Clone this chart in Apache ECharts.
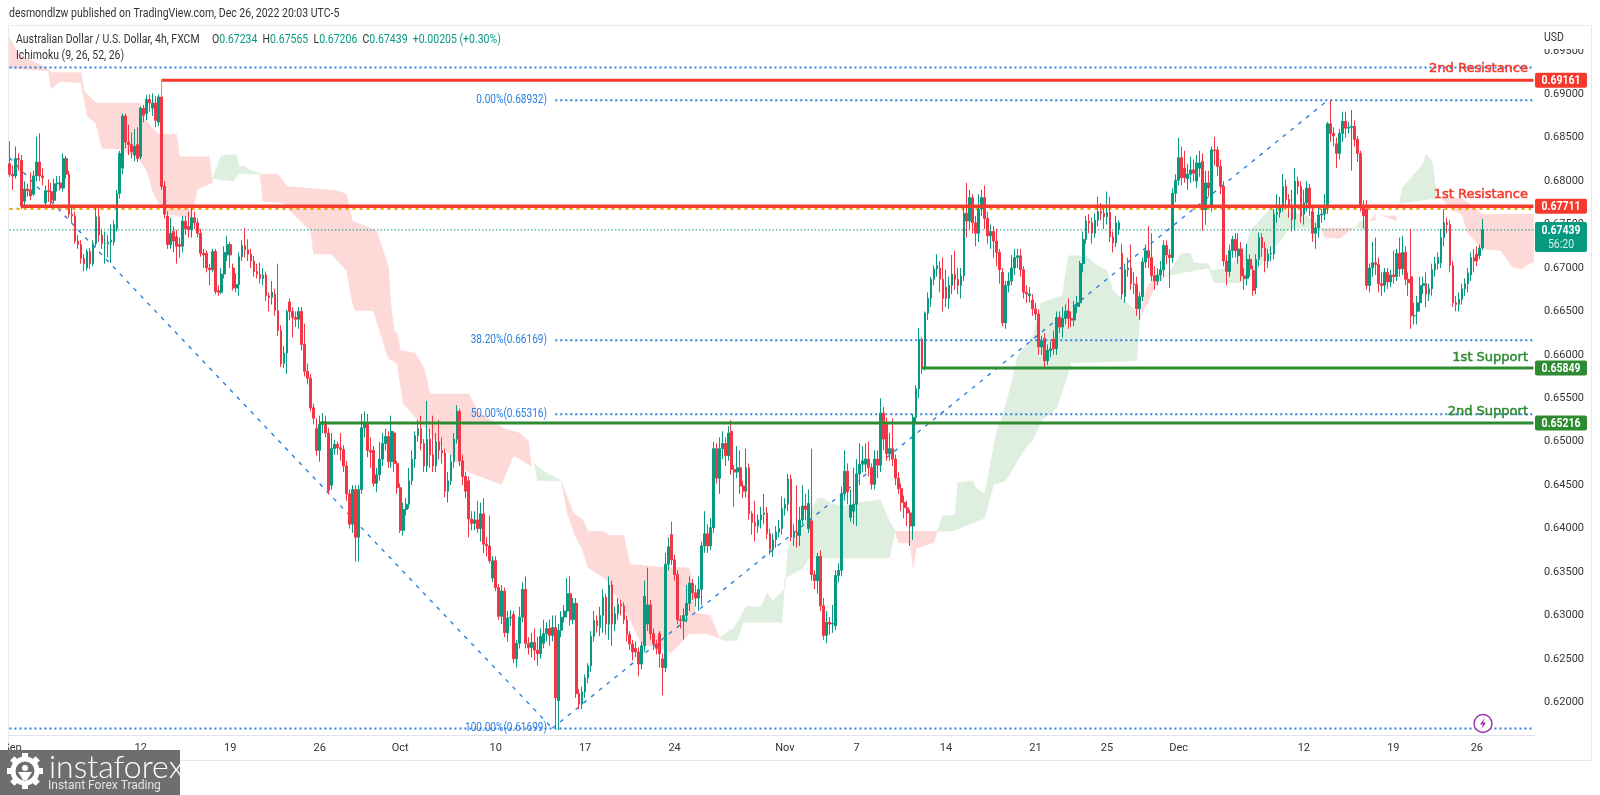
<!DOCTYPE html>
<html><head><meta charset="utf-8"><title>AUD/USD</title>
<style>html,body{margin:0;padding:0;background:#fff}#c{width:1600px;height:795px}</style>
<script src="https://cdn.jsdelivr.net/npm/echarts@6/dist/echarts.min.js"></script></head>
<body><div id="c"></div><script>
// prices in pips (6743 = 0.6743); every candle is [open, close, low, high]
const candlesSep=[[6820,6808,6805,6846],[6808,6806,6790,6818],[6806,6826,6803,6840],[6826,6825,6812,6832],[6824,6771,6768,6830],[6777,6791,6770,6800],[6791,6789,6782,6797],[6790,6783,6778,6810],[6785,6806,6783,6812],[6806,6822,6800,6851],[6822,6806,6800,6855],[6806,6804,6795,6815],[6775,6789,6772,6795],[6789,6788,6776,6802],[6788,6778,6772,6798],[6778,6797,6775,6803],[6797,6798,6788,6806],[6798,6792,6789,6806],[6792,6826,6788,6832],[6826,6808,6803,6829],[6808,6762,6758,6812],[6762,6760,6752,6770],[6760,6731,6728,6765],[6731,6727,6722,6738],[6727,6711,6705,6732],[6711,6705,6696,6716],[6700,6719,6697,6722],[6719,6705,6699,6723],[6705,6728,6702,6732],[6728,6759,6724,6770],[6759,6738,6730,6773],[6738,6728,6722,6745],[6728,6728,6705,6742],[6728,6730,6712,6738],[6730,6732,6706,6750],[6730,6750,6726,6755],[6745,6786,6742,6790],[6786,6832,6780,6835],[6815,6875,6808,6878],[6875,6845,6838,6878],[6845,6842,6830,6865],[6842,6834,6826,6856],[6830,6840,6823,6860],[6842,6826,6822,6862],[6828,6884,6825,6886],[6884,6876,6868,6888],[6878,6894,6870,6899],[6894,6890,6880,6900],[6884,6890,6875,6901],[6890,6870,6862,6898],[6868,6897,6863,6900],[6897,6794,6790,6900],[6794,6762,6757,6800],[6760,6727,6722,6765],[6727,6740,6722,6758],[6742,6731,6718,6748],[6736,6725,6705,6744],[6727,6725,6712,6735],[6725,6754,6718,6760],[6754,6745,6738,6760],[6748,6744,6735,6765],[6744,6758,6735,6772],[6758,6752,6745,6765],[6752,6740,6735,6757],[6740,6717,6713,6745],[6717,6715,6700,6722],[6717,6700,6695,6720],[6700,6698,6680,6705],[6698,6719,6695,6722],[6719,6673,6670,6722],[6674,6672,6668,6680],[6672,6693,6670,6700],[6693,6718,6688,6725],[6715,6727,6708,6737],[6727,6715,6700,6730],[6700,6677,6674,6705],[6677,6681,6672,6694],[6681,6713,6668,6718],[6713,6726,6708,6732],[6726,6721,6712,6746],[6721,6716,6708,6733],[6716,6708,6700,6722],[6708,6696,6690,6714],[6696,6693,6688,6705],[6693,6688,6682,6706],[6688,6692,6680,6700],[6692,6668,6662,6696],[6668,6666,6650,6672],[6666,6672,6658,6685],[6670,6651,6645,6676],[6651,6628,6622,6705],[6628,6590,6586,6634],[6590,6602,6585,6610],[6602,6650,6578,6652],[6661,6650,6640,6665],[6650,6643,6620,6655],[6643,6641,6632,6650],[6641,6650,6630,6655],[6650,6612,6605,6655],[6612,6581,6575,6636],[6581,6573,6566,6590],[6573,6539,6535,6578],[6539,6527,6520,6544],[6515,6490,6484,6527],[6490,6520,6477,6530],[6520,6523,6510,6533],[6523,6510,6505,6530],[6510,6444,6440,6516],[6450,6492,6445,6510],[6492,6497,6485,6502],[6497,6493,6485,6500],[6493,6491,6478,6510],[6491,6472,6465,6496],[6472,6440,6432,6478],[6440,6405,6400,6445],[6405,6445,6395,6450],[6445,6390,6362,6450],[6390,6445,6362,6450],[6445,6516,6440,6532],[6516,6520,6505,6535],[6520,6490,6482,6532],[6490,6488,6470,6505],[6490,6452,6448,6495],[6452,6462,6442,6470],[6462,6480,6455,6500],[6480,6498,6472,6510],[6498,6506,6490,6515],[6506,6477,6470,6512],[6477,6512,6470,6530],[6510,6475,6465,6512],[6475,6447,6440,6478],[6447,6398,6395,6452]];
const candlesOct=[[6398,6422,6392,6430],[6422,6428,6415,6435],[6428,6455,6423,6470],[6455,6480,6450,6490],[6480,6507,6470,6512],[6507,6515,6500,6525],[6515,6498,6490,6530],[6498,6472,6465,6503],[6472,6503,6465,6547],[6503,6485,6470,6515],[6485,6472,6465,6530],[6472,6500,6465,6510],[6500,6490,6480,6525],[6490,6487,6475,6505],[6487,6443,6436,6492],[6443,6455,6430,6465],[6455,6477,6450,6485],[6477,6503,6470,6510],[6503,6535,6498,6542],[6535,6478,6472,6538],[6478,6460,6450,6485],[6460,6443,6435,6465],[6455,6411,6390,6460],[6411,6406,6398,6420],[6406,6410,6398,6420],[6410,6400,6395,6432],[6400,6417,6385,6430],[6417,6382,6372,6435],[6382,6380,6368,6390],[6380,6363,6360,6415],[6343,6363,6338,6368],[6363,6332,6328,6368],[6332,6299,6295,6336],[6299,6328,6290,6335],[6328,6280,6275,6332],[6280,6297,6270,6305],[6297,6298,6288,6306],[6301,6250,6245,6305],[6250,6268,6240,6272],[6268,6298,6262,6310],[6298,6330,6292,6338],[6330,6268,6262,6345],[6268,6263,6255,6275],[6263,6269,6252,6280],[6269,6260,6248,6285],[6260,6256,6242,6275],[6256,6276,6250,6285],[6268,6279,6262,6295],[6279,6285,6270,6292],[6285,6277,6265,6295],[6277,6286,6270,6300],[6286,6205,6170,6300],[6202,6283,6168,6290],[6283,6298,6275,6305],[6298,6305,6292,6312],[6305,6325,6298,6343],[6325,6295,6288,6345],[6295,6314,6290,6320],[6314,6210,6205,6320],[6210,6198,6192,6215],[6198,6212,6192,6218],[6212,6228,6205,6232],[6228,6242,6222,6245],[6242,6276,6235,6282],[6276,6294,6270,6305],[6294,6288,6280,6300],[6286,6300,6276,6310],[6300,6321,6280,6330],[6321,6290,6278,6325],[6290,6335,6272,6345],[6335,6290,6265,6340],[6290,6302,6282,6310],[6302,6313,6295,6320],[6313,6311,6300,6318],[6311,6295,6290,6315],[6295,6278,6270,6300],[6278,6267,6260,6282],[6267,6258,6248,6272],[6262,6258,6252,6270],[6258,6244,6230,6263],[6244,6265,6238,6270],[6265,6322,6258,6340],[6290,6312,6282,6355],[6312,6279,6272,6318],[6279,6267,6260,6285],[6267,6262,6255,6272],[6279,6256,6240,6282],[6250,6240,6208,6256],[6240,6359,6235,6372],[6359,6379,6352,6390],[6393,6364,6358,6408],[6364,6347,6340,6370],[6347,6295,6290,6352],[6295,6294,6285,6300],[6294,6300,6272,6308],[6300,6314,6292,6335],[6314,6337,6305,6345],[6337,6326,6318,6342],[6326,6320,6310,6335],[6320,6330,6305,6345],[6330,6380,6312,6385],[6380,6394,6372,6420],[6394,6380,6372,6405],[6380,6401,6375,6412],[6401,6492,6395,6500],[6492,6458,6452,6498],[6458,6492,6440,6505],[6492,6498,6480,6512],[6498,6484,6472,6505],[6484,6510,6478,6518],[6512,6468,6462,6525],[6468,6465,6425,6473],[6465,6470,6458,6495],[6470,6449,6440,6490],[6449,6443,6435,6455],[6443,6470,6436,6492],[6470,6417,6410,6475],[6417,6407,6393,6420],[6407,6403,6385,6432],[6403,6410,6395,6416],[6410,6416,6400,6425],[6416,6418,6405,6440],[6418,6394,6388,6425],[6394,6376,6370,6400],[6376,6387,6367,6394],[6387,6396,6378,6403],[6396,6400,6390,6410],[6400,6423,6393,6437],[6423,6428,6415,6435],[6428,6457,6420,6463]];
const candlesNov=[[6457,6390,6385,6462],[6390,6396,6380,6405],[6396,6392,6378,6450],[6392,6410,6380,6425],[6410,6426,6405,6450],[6426,6422,6410,6440],[6400,6429,6395,6445],[6409,6347,6340,6492],[6347,6340,6330,6352],[6340,6368,6325,6372],[6368,6311,6305,6375],[6311,6277,6272,6320],[6277,6292,6268,6305],[6292,6290,6278,6298],[6290,6291,6280,6312],[6288,6346,6283,6352],[6346,6352,6338,6360],[6352,6440,6345,6448],[6440,6466,6432,6490],[6466,6442,6428,6475],[6413,6427,6408,6445],[6420,6428,6405,6470],[6428,6463,6403,6480],[6463,6474,6450,6498],[6474,6478,6465,6495],[6474,6480,6465,6498],[6480,6470,6460,6500],[6470,6451,6445,6475],[6451,6480,6445,6490],[6480,6473,6458,6490],[6473,6533,6465,6550],[6533,6503,6490,6540],[6520,6486,6478,6528],[6486,6492,6478,6510],[6492,6480,6472,6527],[6480,6458,6450,6485],[6458,6446,6440,6465],[6446,6430,6420,6452],[6430,6424,6412,6438],[6424,6418,6403,6432],[6418,6403,6380,6422],[6403,6528,6387,6532],[6528,6561,6520,6565],[6561,6618,6550,6631],[6618,6584,6578,6620],[6584,6648,6582,6650],[6648,6665,6640,6672],[6665,6687,6655,6690],[6687,6699,6680,6703],[6699,6703,6690,6716],[6700,6687,6672,6708],[6687,6665,6650,6712],[6678,6665,6655,6698],[6665,6680,6653,6690],[6680,6693,6670,6715],[6693,6687,6675,6720],[6687,6680,6670,6700],[6680,6691,6665,6700],[6691,6763,6685,6770],[6763,6754,6735,6798],[6754,6781,6745,6790],[6781,6752,6740,6785],[6752,6740,6725,6760],[6740,6768,6730,6785],[6768,6781,6760,6790],[6781,6757,6745,6795],[6757,6737,6728,6765],[6737,6742,6722,6750],[6742,6731,6712,6748],[6731,6718,6702,6745],[6718,6698,6682,6722],[6695,6637,6633,6700],[6637,6680,6630,6685],[6680,6685,6672,6695],[6685,6700,6680,6715],[6700,6712,6692,6722],[6712,6714,6700,6722],[6714,6698,6690,6722],[6698,6672,6665,6702],[6672,6670,6660,6680],[6668,6670,6660,6678],[6663,6653,6645,6670],[6653,6647,6640,6660],[6647,6609,6600,6652],[6609,6616,6600,6622],[6619,6593,6585,6625],[6593,6605,6588,6612],[6605,6607,6597,6615],[6618,6607,6600,6628],[6607,6643,6600,6650],[6643,6632,6625,6650],[6632,6642,6620,6655],[6642,6650,6635,6658],[6650,6642,6630,6665],[6642,6640,6632,6650],[6640,6656,6633,6662],[6656,6660,6648,6668],[6660,6705,6655,6708],[6705,6733,6695,6742],[6733,6754,6728,6760],[6754,6752,6740,6762],[6752,6740,6728,6758],[6740,6755,6735,6763],[6755,6765,6748,6782],[6765,6763,6755,6775],[6763,6759,6745,6772],[6759,6764,6750,6788],[6764,6736,6730,6782],[6736,6729,6718,6742],[6729,6752,6724,6760],[6745,6752,6738,6755],[6717,6670,6664,6728],[6667,6698,6660,6705],[6698,6700,6690,6712],[6700,6682,6675,6727],[6682,6681,6670,6695],[6681,6653,6645,6690],[6653,6667,6640,6672],[6667,6707,6662,6712],[6707,6720,6700,6727],[6720,6712,6700,6748],[6712,6691,6685,6740],[6691,6685,6675,6702],[6685,6692,6680,6700],[6692,6698,6685,6708],[6698,6726,6690,6732],[6726,6715,6705,6732],[6715,6712,6677,6722],[6712,6786,6706,6792],[6786,6801,6776,6808],[6801,6827,6795,6850]];
const candlesDec=[[6827,6804,6795,6840],[6815,6804,6798,6835],[6803,6808,6790,6820],[6808,6813,6798,6828],[6813,6809,6800,6825],[6800,6821,6792,6830],[6815,6821,6805,6835],[6823,6767,6743,6832],[6767,6798,6750,6812],[6798,6792,6782,6812],[6771,6836,6765,6840],[6836,6835,6818,6851],[6836,6817,6806,6840],[6817,6794,6785,6825],[6794,6708,6702,6800],[6708,6696,6680,6715],[6696,6720,6690,6727],[6720,6733,6712,6737],[6733,6720,6712,6740],[6714,6722,6705,6740],[6722,6691,6685,6730],[6691,6688,6675,6700],[6688,6710,6680,6728],[6710,6699,6690,6716],[6697,6674,6668,6703],[6677,6710,6670,6716],[6710,6735,6702,6741],[6735,6723,6713,6740],[6723,6708,6695,6730],[6708,6716,6700,6722],[6716,6717,6708,6725],[6716,6762,6710,6768],[6762,6764,6752,6785],[6764,6770,6758,6782],[6770,6794,6765,6808],[6794,6779,6770,6802],[6779,6770,6758,6785],[6770,6756,6742,6790],[6756,6800,6743,6815],[6800,6794,6785,6805],[6794,6760,6752,6800],[6762,6775,6750,6790],[6775,6792,6765,6800],[6792,6769,6760,6797],[6765,6740,6730,6770],[6740,6746,6722,6752],[6746,6761,6735,6770],[6761,6762,6752,6768],[6762,6772,6755,6785],[6769,6866,6762,6868],[6866,6855,6845,6893],[6855,6852,6840,6862],[6843,6832,6815,6850],[6832,6855,6825,6860],[6855,6869,6845,6880],[6869,6861,6850,6880],[6861,6862,6855,6868],[6862,6863,6812,6882],[6863,6848,6840,6870],[6848,6832,6822,6852],[6832,6771,6765,6835],[6771,6760,6745,6778],[6768,6680,6675,6778],[6680,6700,6672,6705],[6700,6706,6690,6730],[6706,6704,6692,6735],[6704,6682,6672,6712],[6682,6680,6668,6695],[6680,6695,6672,6700],[6695,6684,6676,6700],[6684,6692,6678,6698],[6692,6690,6682,6720],[6690,6717,6685,6722],[6717,6699,6690,6735],[6699,6718,6692,6737],[6718,6687,6680,6725],[6687,6683,6668,6695],[6690,6645,6630,6745],[6645,6645,6635,6660],[6650,6660,6635,6668],[6660,6680,6650,6690],[6680,6682,6670,6690],[6682,6670,6655,6695],[6670,6676,6662,6682],[6676,6698,6668,6705],[6698,6705,6690,6713],[6705,6712,6698,6718],[6706,6735,6700,6745],[6735,6752,6725,6768],[6752,6750,6740,6758],[6750,6703,6695,6755],[6703,6660,6655,6708],[6660,6658,6650,6668],[6658,6664,6650,6672],[6664,6676,6658,6682],[6676,6682,6668,6688],[6682,6694,6672,6700],[6692,6712,6685,6718],[6712,6708,6695,6722],[6716,6708,6702,6725],[6714,6723,6710,6727],[6723.4,6743.9,6720.6,6756.5]];

// Ichimoku cloud outlines: [bar index, price]
const redTop1=[[0,6965],[3,6946],[13,6929],[14,6925],[24,6925],[25,6904],[29,6890],[44,6890],[45,6872],[50,6854],[56,6854],[57,6828],[67,6828],[68,6800]];
const redBot1=[[0,6930],[13,6927],[14,6906],[17,6915],[24,6913],[26,6875],[29,6866],[31,6838],[37,6837],[43,6827],[46,6812],[48,6789],[51,6768],[53,6762],[61,6758],[63,6791],[68,6798]];
const greenTop1=[[68,6803],[71,6829],[76,6831],[77,6817],[79,6817],[81,6812],[84,6809]];
const greenBot1=[[68,6803],[75,6800],[77,6809],[84,6808]];
const redTop2=[[84,6808],[90,6808],[93,6794],[110,6789],[113,6785],[115,6754],[123,6743],[127,6702],[128,6654],[129,6628],[130,6625],[131,6605],[136,6602],[139,6585],[141,6555],[154,6555],[157,6535],[166,6515],[171,6510],[174,6501],[175,6472]];
const redBot2=[[84,6808],[85,6777],[92,6775],[94,6766],[100,6746],[101,6743],[102,6716],[108,6716],[113,6697],[115,6660],[116,6651],[122,6651],[127,6596],[130,6590],[132,6544],[137,6524],[153,6466],[165,6451],[169,6484],[175,6472]];
const greenTop2=[[176,6475],[179,6466],[184,6457],[185,6455]];
const greenBot2=[[176,6475],[177,6455],[185,6455]];
const redTop3=[[185,6455],[189,6418],[192,6411],[194,6397],[199,6397],[201,6392],[206,6392],[208,6359],[217,6356],[228,6355],[229,6334],[230,6303],[235,6300],[238,6274]];
const redBot3=[[185,6455],[187,6418],[190,6389],[192,6377],[194,6355],[200,6342],[207,6302],[212,6267],[217,6263],[222,6257],[228,6279],[234,6279],[238,6274]];
const greenTop3=[[238,6274],[243,6286],[247,6310],[252,6310],[254,6326],[256,6317],[260,6331],[261,6377],[271,6435],[273,6435],[276,6428],[280,6426],[285,6430],[292,6433],[295,6409],[297,6397]];
const greenBot3=[[238,6274],[240,6271],[244,6271],[246,6292],[259,6292],[260,6343],[266,6354],[268,6366],[295,6366],[297,6397]];
const redTop4=[[297,6397],[311,6397]];
const redBot4=[[297,6397],[298,6384],[302,6383],[303,6355],[304,6377],[310,6384],[311,6397]];
const greenTop4=[[311,6397],[313,6415],[317,6415],[318,6453],[323,6455],[324,6447],[327,6440],[331,6512],[333,6530],[336,6567],[338,6599],[343,6620],[346,6660],[353,6668],[355,6714],[361,6714],[365,6702],[368,6697],[370,6674],[377,6653],[379,6643]];
const greenBot4=[[311,6397],[316,6397],[327,6412],[330,6451],[334,6455],[341,6495],[343,6501],[346,6524],[351,6538],[355,6578],[356,6591],[378,6593],[379,6643]];
const redTop5=[[379,6643],[381,6674],[384,6691],[388,6691]];
const redBot5=[[379,6643],[382,6662],[384,6679],[388,6691]];
const greenTop5=[[388,6691],[393,6717],[396,6717],[397,6706],[402,6705],[403,6697],[407,6699],[414,6716],[416,6743],[423,6769],[435,6760],[440,6746]];
const greenBot5=[[388,6691],[402,6700],[404,6683],[413,6683],[417,6693],[422,6714],[427,6735],[429,6746],[440,6746]];
const redTop6=[[440,6746],[451,6746]];
const redBot6=[[440,6746],[441,6735],[446,6734],[450,6745],[451,6746]];
const greenTop6=[[451,6746],[453,6754],[455,6755]];
const greenBot6=[[451,6746],[455,6746]];
const redTop7=[[456,6754],[458,6762]];
const redBot7=[[456,6754],[458,6755]];
const redTop8=[[460,6760],[465,6760]];
const redBot8=[[461,6760],[465,6754]];
const greenTop7=[[466,6774],[467,6792],[472,6812],[474,6820],[475,6831],[477,6823],[478,6797],[479,6781]];
const greenBot7=[[466,6774],[479,6781]];
const redTop9=[[480,6781],[487,6780],[494,6762],[511,6762]];
const redBot9=[[480,6781],[484,6766],[487,6762],[489,6740],[494,6722],[500,6720],[504,6701],[507,6699],[510,6706],[511,6706]];

const tickIndex=[1,44,74,104,131,163,193,223,260,284,314,344,368,392,434,464,492];
const tickText=['Sep','12','19','26','Oct','10','17','24','Nov','7','14','21','25','Dec','12','19','26'];
const resistance=[6916.1,6771.1];
const support=[6584.9,6521.6];
const lastPrice=6743.9;
const countdown='56:20';
const prevClose=6768;
const topDotted=6931;
const fibPrices=[6893.2,6616.9,6531.6,6169.9];
const fibTexts=['0.00%(0.68932)','38.20%(0.66169)','50.00%(0.65316)','100.00%(0.61699)'];
const fallLine=[[0,6827],[182,6170]];
const riseLine=[[182,6170],[442,6893]];
const stem=[[51,6916],[51,6897]];
const noteTexts=['2nd Resistance','1st Resistance','1st Support','2nd Support'];
const notePrices=[6930,6785,6597,6535];
const ohlc=['0.67234','0.67565','0.67206','0.67439','+0.00205 (+0.30%)'];

const LAST=511, UP='#089981', DOWN='#f23645', RED='#f5392d', GREEN='#2e8b32', BLUE='#2a7fe0';
const CLOUD_R='#fdd9d7', CLOUD_G='#deefdf';
const FONT='Roboto,sans-serif', SQUEEZE=.84;
const candles=[].concat(candlesSep,candlesOct,candlesNov,candlesDec);
const cats=[];for(let i=0;i<=LAST;i++){const k=tickIndex.indexOf(i);cats.push(k>=0?tickText[k]:'');}
const clouds=[[redTop1,redBot1,CLOUD_R],[greenTop1,greenBot1,CLOUD_G],[redTop2,redBot2,CLOUD_R],[greenTop2,greenBot2,CLOUD_G],[redTop3,redBot3,CLOUD_R],[greenTop3,greenBot3,CLOUD_G],[redTop4,redBot4,CLOUD_R],[greenTop4,greenBot4,CLOUD_G],[redTop5,redBot5,CLOUD_R],[greenTop5,greenBot5,CLOUD_G],[redTop6,redBot6,CLOUD_R],[greenTop6,greenBot6,CLOUD_G],[redTop7,redBot7,CLOUD_R],[redTop8,redBot8,CLOUD_R],[greenTop7,greenBot7,CLOUD_G],[redTop9,redBot9,CLOUD_R]];

function line(data,color,width,dash,z){return{type:'line',data,symbol:'none',silent:true,z,animation:false,lineStyle:{color,width,type:dash||'solid',cap:'butt'}};}
const tags=[[resistance[0],RED,0],[resistance[1],RED,0],[support[0],GREEN,0],[support[1],GREEN,0],[lastPrice,UP,1]];
function tagItem(p,api){
  const t=tags[p.dataIndex],y=api.coord([LAST,t[0]])[1],x=p.coordSys.x+p.coordSys.width;
  const fs={fill:'#fff',fontFamily:FONT,fontSize:12.5,fontWeight:'bold',align:'center',verticalAlign:'middle'};
  const kids=[{type:'rect',shape:{x,y:t[2]?y-8:y-7.5,width:52,height:t[2]?30:15,r:2},style:{fill:t[1]}},
    {type:'text',x:x+26,y:y+.5,scaleX:SQUEEZE,style:Object.assign({text:(t[0]/10000).toFixed(5)},fs)}];
  if(t[2])kids.push({type:'text',x:x+26,y:y+14.5,scaleX:SQUEEZE,style:Object.assign({},fs,{text:countdown,fontWeight:'normal',fill:'#d8f0ea'})});
  return{type:'group',children:kids};
}
const noteCol=[RED,RED,GREEN,GREEN];
function head(text,x,y,extra){return{type:'text',z:100,x,y,scaleX:SQUEEZE,style:Object.assign({text,verticalAlign:'middle',fill:'#333',fontFamily:FONT,fontSize:12.5},extra||{})};}
const chart=echarts.init(document.getElementById('c'),null,{renderer:'canvas'});
const gear=[];for(let a=0;a<8;a++)gear.push({type:'rect',x:25,y:771,rotation:a*Math.PI/4,shape:{x:-3,y:-18,width:6,height:7},style:{fill:'#fff'},z:101});
chart.setOption({
  animation:false,backgroundColor:'#fff',
  grid:{left:8,right:65,top:7.45,height:738.25,containLabel:false},
  xAxis:{type:'category',data:cats,boundaryGap:true,offset:-10,axisTick:{show:false},splitLine:{show:false},
    axisLine:{lineStyle:{color:'#e0e3eb',width:1}},
    axisLabel:{interval:(i)=>cats[i]!=='',color:'#333',fontFamily:FONT,fontSize:11,margin:7,hideOverlap:false}},
  yAxis:{type:'value',position:'right',min:6150,max:7000,interval:50,splitLine:{show:false},axisTick:{show:false},axisLine:{show:false},
    axisLabel:{color:'#333',fontFamily:FONT,fontSize:11,margin:9,formatter:v=>(v===6150||v===7000)?'':(v/10000).toFixed(5)}},
  series:[
    {type:'custom',silent:true,z:1,clip:true,data:clouds.map((c,k)=>[k,6500]),renderItem(p,api){
      const c=clouds[p.dataIndex];
      const pts=c[0].concat(c[1].slice().reverse()).map(q=>api.coord(q));
      return{type:'polygon',shape:{points:pts},style:{fill:c[2],stroke:c[2],lineWidth:.5}};}},
    line([[0,topDotted],[LAST,topDotted]],BLUE,2,[2,3],2),
    line([[183,fibPrices[0]],[LAST,fibPrices[0]]],BLUE,2,[2,3],2),
    line([[183,fibPrices[1]],[LAST,fibPrices[1]]],BLUE,2,[2,3],2),
    line([[183,fibPrices[2]],[LAST,fibPrices[2]]],BLUE,2,[2,3],2),
    line([[0,fibPrices[3]],[LAST,fibPrices[3]]],BLUE,2,[2,3],2),
    line(fallLine,BLUE,1.4,[4,6],2),line(riseLine,BLUE,1.4,[4,6],2),
    line([[0,lastPrice],[LAST,lastPrice]],UP,1,[1.5,2],2),
    line([[0,prevClose],[LAST,prevClose]],'#f0a30a',2,[3,4],2),
    {type:'candlestick',data:candles,barWidth:2.2,z:3,silent:true,animation:false,
      itemStyle:{color:UP,color0:DOWN,borderColor:UP,borderColor0:DOWN,borderWidth:1}},
    line(stem,'#f77',1,null,4),
    line([[51,resistance[0]],[LAST,resistance[0]]],RED,3,null,5),
    line([[4,resistance[1]],[LAST,resistance[1]]],RED,3.6,null,5),
    line([[306,support[0]],[LAST,support[0]]],GREEN,3,null,5),
    line([[104,support[1]],[LAST,support[1]]],GREEN,3,null,5),
    {type:'custom',silent:true,z:6,clip:false,data:fibPrices.map(v=>[180,v]),renderItem(p,api){
      const q=api.coord([180,api.value(1)]);
      return{type:'text',x:547,y:q[1],scaleX:SQUEEZE,style:{text:fibTexts[p.dataIndex],align:'right',verticalAlign:'middle',fill:BLUE,fontFamily:FONT,fontSize:12}};}},
    {type:'custom',silent:true,z:7,clip:false,data:notePrices.map(v=>[500,v]),renderItem(p,api){
      const q=api.coord([500,api.value(1)]);
      const col=noteCol[p.dataIndex];
      return{type:'text',style:{text:noteTexts[p.dataIndex],x:1528,y:q[1],align:'right',verticalAlign:'middle',fill:col,stroke:col,lineWidth:.5,fontFamily:'"DejaVu Sans",sans-serif',fontSize:13}};}},
    {type:'custom',silent:true,z:10,clip:false,data:tags.map(t=>[LAST,t[0]]),renderItem:tagItem}
  ],
  graphic:[
    {type:'rect',z:-1,silent:true,shape:{x:8.5,y:25.5,width:1583,height:735},style:{fill:'none',stroke:'#e8e9ec',lineWidth:1}},
    {type:'rect',z:90,silent:true,shape:{x:1536,y:41,width:54,height:8},style:{fill:'#fff'}},
    {type:'rect',z:90,silent:true,shape:{x:0,y:740,width:8,height:18},style:{fill:'#fff'}},
    head('USD',1544,38),
    head('desmondlzw published on TradingView.com, Dec 26, 2022 20:03 UTC-5',9,14),
    head('Australian Dollar / U.S. Dollar, 4h, FXCM',16,40),
    head(`{k|O}{v|${ohlc[0]}}  {k|H}{v|${ohlc[1]}}  {k|L}{v|${ohlc[2]}}  {k|C}{v|${ohlc[3]}}  {v|${ohlc[4]}}`,212,40,{rich:{k:{fill:'#333',fontFamily:FONT,fontSize:12.5},v:{fill:UP,fontFamily:FONT,fontSize:12.5}}}),
    head('Ichimoku (9, 26, 52, 26)',16,56),
    {type:'circle',z:100,silent:true,shape:{cx:1483,cy:723.5,r:9},style:{fill:'#fff',stroke:'#9c27b0',lineWidth:1.4}},
    {type:'polygon',z:101,silent:true,shape:{points:[[1485,717.5],[1480,724.5],[1483,724.5],[1481,729.5],[1486,722.5],[1483,722.5]]},style:{fill:'#9c27b0'}},
    {type:'rect',z:100,silent:true,shape:{x:0,y:750,width:180,height:45},style:{fill:'#6e6e6e'}},
    {type:'circle',z:101,silent:true,shape:{cx:25,cy:771,r:12},style:{fill:'none',stroke:'#fff',lineWidth:5}},
    ...gear,
    {type:'circle',z:101,silent:true,shape:{cx:25,cy:768,r:3},style:{fill:'#fff'}},
    {type:'polygon',z:101,silent:true,shape:{points:[[18,772],[32,772],[27,780],[23,780]]},style:{fill:'#fff'}},
    {type:'text',z:101,style:{text:'instaforex',x:49,y:768,verticalAlign:'middle',fill:'#fff',fontFamily:'Lato,sans-serif',fontWeight:300,fontSize:32}},
    {type:'text',z:101,style:{text:'Instant Forex Trading',x:48,y:786,verticalAlign:'middle',fill:'#e4e4e4',fontFamily:'Roboto,sans-serif',fontSize:12}}
  ]
});
</script></body></html>
